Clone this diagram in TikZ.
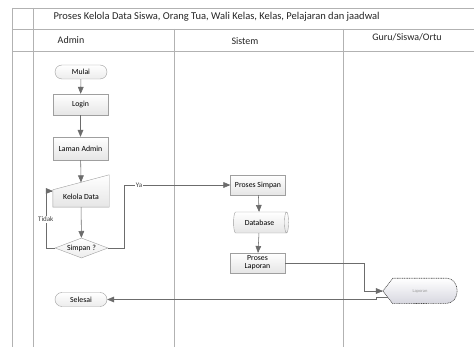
\documentclass[tikz,border=0pt]{standalone}
\usepackage{fontspec}
\setmainfont{Carlito}
\usetikzlibrary{calc}
\usetikzlibrary{arrows}
\usetikzlibrary{positioning}
\usetikzlibrary{shapes.geometric}
\usetikzlibrary{shapes.misc}

\begin{document}
\begin{tikzpicture}[x=1pt,y=-1pt,
    lane/.style={draw=gray!60,line width=0.6pt},
    conn/.style={draw=gray!85!black,line width=0.55pt,-triangle 45},
    proc/.style={rectangle,draw=gray!75,top color=white,bottom color=gray!20,
        minimum width=55pt,minimum height=21pt,inner sep=1pt,
        font=\fontsize{7.8}{8.5}\selectfont,align=center},
    term/.style={rounded rectangle,draw=gray!75,top color=white,bottom color=gray!15,
        minimum width=54pt,minimum height=14pt,inner sep=1pt,
        font=\fontsize{7.8}{8.5}\selectfont},
    lbl/.style={fill=white,inner sep=0.8pt,text=black!75,font=\fontsize{7}{7}\selectfont},
    head/.style={font=\fontsize{10}{11}\selectfont,text=black!85}]
\useasboundingbox (0,0) rectangle (474,347);
\fill[white] (0,0) rectangle (474,347);

\edef\xl{12}
\edef\xc{33}
\edef\xa{174}
\edef\xb{343}

% pool and lanes
\draw[lane] (\xl,8) -- (474,8);
\draw[lane] (\xl,29) -- (474,29);
\draw[lane] (\xl,51) -- (474,51);
\draw[lane] (\xl,8) -- (\xl,347);
\draw[lane] (\xc,8) -- (\xc,347);
\draw[lane] (\xa,29) -- (\xa,347);
\draw[lane] (\xb,29) -- (\xb,347);

\node[head,anchor=west,font=\fontsize{10.5}{11}\selectfont] (judul) at (50,16.5)
    {Proses Kelola Data Siswa, Orang Tua, Wali Kelas, Kelas, Pelajaran dan jaadwal};
\node[head] (admin) at (71,40) {Admin};
\node[head] (sistem) at (245,41.5) {Sistem};
\node[head] (guru) at (407,37.5) {Guru/Siswa/Ortu};

% admin
\node[term] (mulai) at (81,72) {Mulai};
\node[proc] (login) at (80.5,104.5) {Login};
\node[proc,minimum height=23pt] (laman) at (80.5,148.5) {Laman Admin};
\node[minimum width=56pt,minimum height=20pt,inner sep=0pt] (kelola) at (81,197) {};
\draw[draw=gray!75,top color=white,bottom color=gray!20]
    (kelola.south west) -- ([yshift=-3pt]kelola.north west)
    -- ([yshift=12pt]kelola.north east) -- (kelola.south east) -- cycle;
\node[font=\fontsize{7.8}{8.5}\selectfont] at (kelola) {Kelola Data};
\node[diamond,aspect=2.6,draw=gray!75,top color=white,bottom color=gray!15,
    minimum width=53pt,minimum height=20pt,inner sep=0pt,
    font=\fontsize{7.8}{8.5}\selectfont] (simpan) at (81.5,248) {Simpan ?};
\node[term] (selesai) at (81,299.5) {Selesai};

% sistem
\node[proc,minimum height=20pt] (prsimpan) at (258,185) {Proses Simpan};
\node[cylinder,aspect=0.55,draw=gray!75,top color=white,bottom color=gray!20,
    minimum width=21pt,minimum height=55pt,inner sep=1pt,
    font=\fontsize{7.8}{8.5}\selectfont] (db) at (259.5,222.5) {Database};
\node[proc,minimum height=20pt,font=\fontsize{7.8}{8}\selectfont] (prlaporan) at (257.5,263) {Proses\\Laporan};

% guru/siswa/ortu
\node[minimum width=74pt,minimum height=25pt,inner sep=0pt] (laporan) at (420,291) {};
\draw[draw=black!70,line width=0.6pt,dash pattern=on 1pt off 0.7pt,
    top color=white,bottom color=blue!12!gray!28]
    (laporan.west) -- ([xshift=10pt]laporan.north west)
    -- ([xshift=-10pt]laporan.north east)
    arc[start angle=90,end angle=-90,x radius=10pt,y radius=12.5pt]
    -- ([xshift=10pt]laporan.south west) -- cycle;
\node[text=gray!80,font=\fontsize{4.5}{5}\selectfont] at (laporan) {Laporan};

% alur
\draw[conn] (mulai) -- (login);
\draw[conn] (login) -- (laman);
\draw[conn] (laman) -- ([yshift=4.5pt]kelola.north);
\draw[conn] (kelola) -- (simpan);
\draw[conn] (simpan.west) -- ++(-9,0) |- ([yshift=6pt]kelola.west)
    node[lbl,pos=0.25] {Tidak};
\draw[conn] (simpan.east) -- ++(16,0) |- (prsimpan.west)
    node[lbl,pos=0.57] {Ya};
\draw[conn] (prsimpan) -- (db);
\draw[conn] (db) -- (prlaporan);
\draw[conn] (prlaporan.east) -- ++(79,0) |- (laporan.west);
\coordinate (lapout) at ($(laporan.west)!0.5!([xshift=10pt]laporan.south west)$);
\draw[conn] (lapout) -- ++(-12,0) |- (selesai.east);
\end{tikzpicture}
\end{document}
